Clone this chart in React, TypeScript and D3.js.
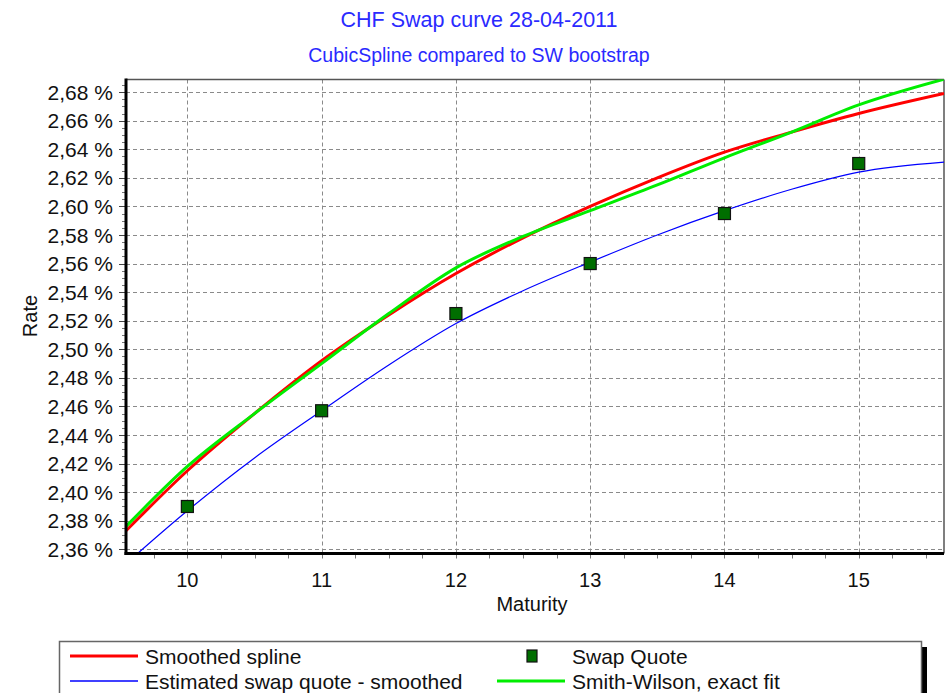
import React, { useEffect, useRef } from 'react'
import * as d3 from 'd3'

const maturities = [9.543, 10, 10.5, 11, 11.5, 12, 12.5, 13, 13.5, 14, 14.5, 15, 15.635]
const smoothedSpline = [2.373, 2.415, 2.455, 2.492, 2.524, 2.553, 2.578, 2.600, 2.620, 2.638, 2.652, 2.665, 2.679]
const smithWilson = [2.376, 2.418, 2.455, 2.490, 2.525, 2.557, 2.579, 2.597, 2.615, 2.634, 2.652, 2.671, 2.689]
const estimatedQuote = [2.350, 2.387, 2.424, 2.457, 2.489, 2.518, 2.541, 2.561, 2.580, 2.597, 2.612, 2.624, 2.631]

const quoteYears = [10, 11, 12, 13, 14, 15]
const swapQuotes = [2.390, 2.457, 2.525, 2.560, 2.595, 2.630]

const yTicks = [2.36, 2.38, 2.40, 2.42, 2.44, 2.46, 2.48, 2.50, 2.52, 2.54, 2.56, 2.58, 2.60, 2.62, 2.64, 2.66, 2.68]
const xTicks = [10, 11, 12, 13, 14, 15]

const W = 946
const H = 693
const FONT = '"Liberation Sans", Arial, sans-serif'

export default function App() {
  const ref = useRef(null)

  useEffect(() => {
    const svg = d3.select(ref.current)
    svg.selectAll('*').remove()

    const left = 126, right = 944, top = 79.5, bottom = 553.5

    const x = d3.scaleLinear().domain([9.543, 15.635]).range([left, right])
    const y = d3.scaleLinear().domain([2.3571, 2.6888]).range([bottom, top])

    // titles
    svg.append('text')
      .attr('x', 479).attr('y', 27)
      .attr('text-anchor', 'middle')
      .attr('font-family', FONT).attr('font-size', 21.5)
      .attr('fill', '#2a2aff')
      .text('CHF Swap curve 28-04-2011')
    svg.append('text')
      .attr('x', 479).attr('y', 62)
      .attr('text-anchor', 'middle')
      .attr('font-family', FONT).attr('font-size', 19.5)
      .attr('fill', '#2a2aff')
      .text('CubicSpline compared to SW bootstrap')

    svg.append('defs').append('clipPath').attr('id', 'plot-clip')
      .append('rect')
      .attr('x', left).attr('y', top)
      .attr('width', right - left).attr('height', bottom - top)

    // grid
    const grid = svg.append('g')
    grid.selectAll('.hg').data(yTicks).enter().append('line')
      .attr('x1', left).attr('x2', right)
      .attr('y1', d => Math.round(y(d)) + 0.5).attr('y2', d => Math.round(y(d)) + 0.5)
      .attr('stroke', '#8a8a8a').attr('stroke-dasharray', '4,3')
    grid.selectAll('.vg').data(xTicks).enter().append('line')
      .attr('x1', d => Math.round(x(d)) + 0.5).attr('x2', d => Math.round(x(d)) + 0.5)
      .attr('y1', top).attr('y2', bottom)
      .attr('stroke', '#8a8a8a').attr('stroke-dasharray', '4,3')

    // frame
    svg.append('line').attr('x1', left).attr('x2', right).attr('y1', top).attr('y2', top)
      .attr('stroke', '#555').attr('stroke-width', 1.5)
    svg.append('line').attr('x1', right).attr('x2', right).attr('y1', top).attr('y2', bottom)
      .attr('stroke', '#555').attr('stroke-width', 1.5)

    const plot = svg.append('g').attr('clip-path', 'url(#plot-clip)')
    const line = (vals: number[]) => d3.line<number>()
      .x((d, i) => x(maturities[i]))
      .y(d => y(d))
      .curve(d3.curveMonotoneX)(vals)

    plot.append('path').attr('d', line(smoothedSpline))
      .attr('fill', 'none').attr('stroke', '#ff0000').attr('stroke-width', 3)
    plot.append('path').attr('d', line(smithWilson))
      .attr('fill', 'none').attr('stroke', '#00ee00').attr('stroke-width', 3)
    plot.append('path').attr('d', line(estimatedQuote))
      .attr('fill', 'none').attr('stroke', '#0000ff').attr('stroke-width', 1.2)

    plot.selectAll('.q').data(swapQuotes).enter().append('rect')
      .attr('x', (d, i) => x(quoteYears[i]) - 6)
      .attr('y', d => y(d) - 6)
      .attr('width', 12).attr('height', 12)
      .attr('fill', '#006e00').attr('stroke', '#111').attr('stroke-width', 1.2)

    // axes
    const minorY = d3.range(2.36, 2.6851, 0.005)
    svg.selectAll('.ymt').data(minorY).enter().append('line')
      .attr('x1', left - 4).attr('x2', left)
      .attr('y1', d => Math.round(y(d)) + 0.5).attr('y2', d => Math.round(y(d)) + 0.5)
      .attr('stroke', '#777')
    svg.selectAll('.yt').data(yTicks).enter().append('line')
      .attr('x1', left - 7).attr('x2', left)
      .attr('y1', d => Math.round(y(d)) + 0.5).attr('y2', d => Math.round(y(d)) + 0.5)
      .attr('stroke', '#444')
    svg.selectAll('.yl').data(yTicks).enter().append('text')
      .attr('x', 113).attr('y', d => y(d))
      .attr('dy', '0.36em')
      .attr('text-anchor', 'end')
      .attr('font-family', FONT).attr('font-size', 21)
      .attr('fill', '#111')
      .text(d => d3.format('.2f')(d).replace('.', ',') + ' %')

    const minorX = d3.range(9.75, 15.63, 0.25)
    svg.selectAll('.xmt').data(minorX).enter().append('line')
      .attr('x1', d => Math.round(x(d)) + 0.5).attr('x2', d => Math.round(x(d)) + 0.5)
      .attr('y1', bottom).attr('y2', bottom + 5)
      .attr('stroke', '#777')
    svg.selectAll('.xl').data(xTicks).enter().append('text')
      .attr('x', d => x(d)).attr('y', 587)
      .attr('text-anchor', 'middle')
      .attr('font-family', FONT).attr('font-size', 20)
      .attr('fill', '#111')
      .text(d => d)

    svg.append('line').attr('x1', left).attr('x2', left).attr('y1', top - 1).attr('y2', bottom + 1.5)
      .attr('stroke', '#000').attr('stroke-width', 3)
    svg.append('line').attr('x1', left - 1.5).attr('x2', right).attr('y1', bottom).attr('y2', bottom)
      .attr('stroke', '#000').attr('stroke-width', 3)

    svg.append('text')
      .attr('x', 532).attr('y', 611)
      .attr('text-anchor', 'middle')
      .attr('font-family', FONT).attr('font-size', 20)
      .attr('fill', '#111')
      .text('Maturity')
    svg.append('text')
      .attr('transform', 'translate(37,316) rotate(-90)')
      .attr('text-anchor', 'middle')
      .attr('font-family', FONT).attr('font-size', 20)
      .attr('fill', '#111')
      .text('Rate')

    // legend
    const lg = svg.append('g')
    lg.append('rect').attr('x', 922).attr('y', 647).attr('width', 5).attr('height', 60).attr('fill', '#000')
    lg.append('rect').attr('x', 59.5).attr('y', 641.5).attr('width', 862).attr('height', 70)
      .attr('fill', '#fff').attr('stroke', '#666').attr('stroke-width', 1.5)

    const items = [
      { kind: 'line', color: '#ff0000', w: 3, x0: 70, tx: 145, ty: 656, label: 'Smoothed spline' },
      { kind: 'square', color: '#006e00', w: 0, x0: 532, tx: 572, ty: 656, label: 'Swap Quote' },
      { kind: 'line', color: '#0000ff', w: 1.5, x0: 70, tx: 145, ty: 681, label: 'Estimated swap quote - smoothed' },
      { kind: 'line', color: '#00ee00', w: 3, x0: 497, tx: 572, ty: 681, label: 'Smith-Wilson, exact fit' }
    ]
    items.forEach(it => {
      if (it.kind === 'line') {
        lg.append('line').attr('x1', it.x0).attr('x2', it.x0 + 68)
          .attr('y1', it.ty).attr('y2', it.ty)
          .attr('stroke', it.color).attr('stroke-width', it.w)
      } else {
        lg.append('rect').attr('x', it.x0 - 5).attr('y', it.ty - 6).attr('width', 10).attr('height', 12)
          .attr('fill', it.color).attr('stroke', '#111').attr('stroke-width', 1.2)
      }
      lg.append('text').attr('x', it.tx).attr('y', it.ty).attr('dy', '0.36em')
        .attr('font-family', FONT).attr('font-size', 21)
        .attr('fill', '#111')
        .text(it.label)
    })
  }, [])

  return (
    <svg ref={ref} width={W} height={H}
      style={{ position: 'absolute', left: 0, top: 0, background: '#fff' }} />
  )
}
